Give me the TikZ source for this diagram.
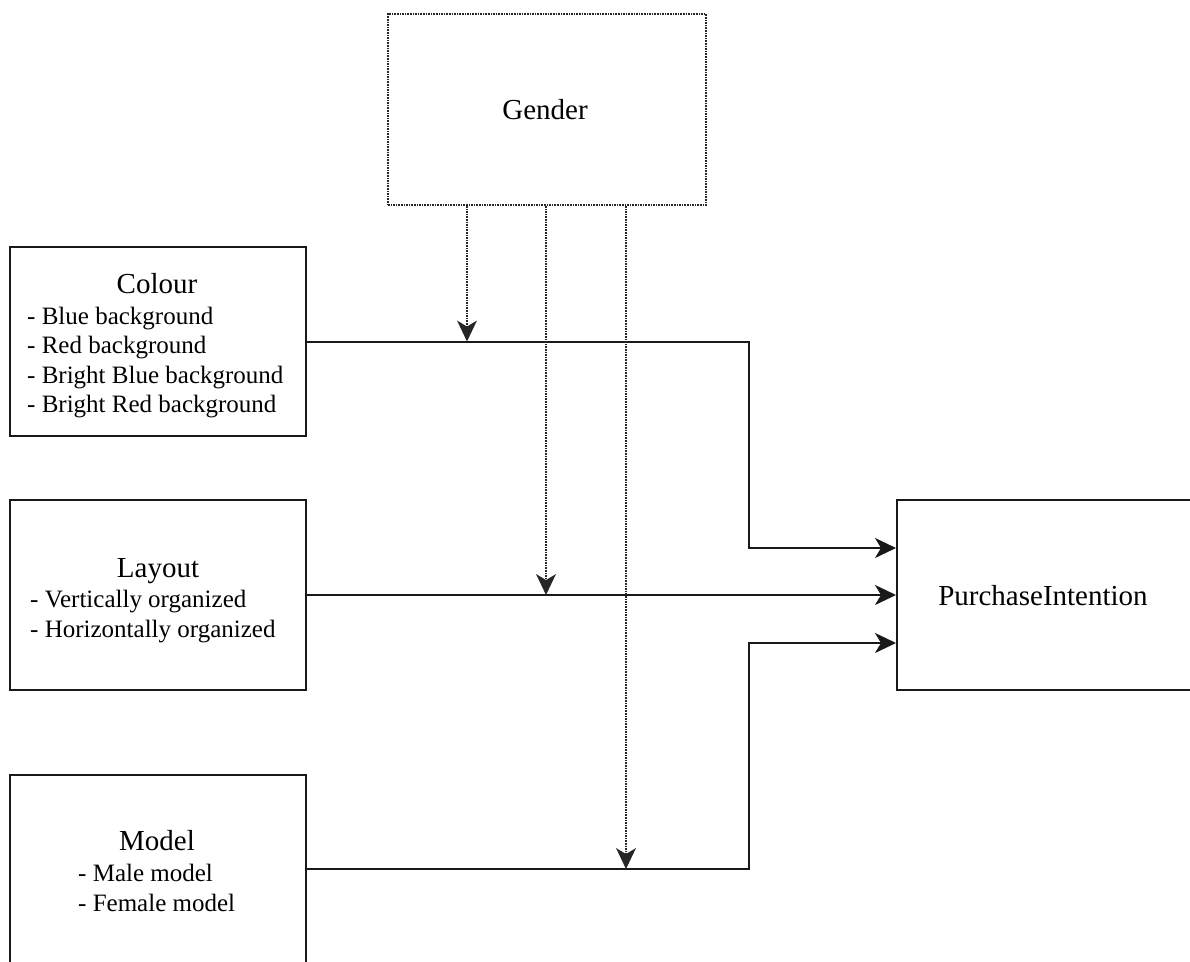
\documentclass[tikz,border=0pt]{standalone}
\usepackage{fontspec}
\setmainfont{Liberation Serif}
\usetikzlibrary{arrows.meta}
\begin{document}
\begin{tikzpicture}[x=1pt,y=-1pt,
  box/.style={draw=black!90,line width=2pt,rectangle,inner sep=0pt},
  dotbox/.style={draw=black!85,line width=1.8pt,dash pattern=on 1.6pt off 1pt,rectangle,inner sep=0pt},
  title/.style={anchor=base,inner sep=0pt,font=\fontsize{29}{34}\selectfont},
  item/.style={anchor=base west,inner sep=0pt,font=\fontsize{25}{30}\selectfont},
  conn/.style={draw=black!90,line width=2pt,-{Stealth[length=21pt,width=20pt,inset=6pt]}},
  mod/.style={draw=black!85,line width=1.8pt,dash pattern=on 1.6pt off 1pt,-{Stealth[length=21pt,width=20pt,inset=6pt,line width=0pt]}}]
\useasboundingbox (0,0) rectangle (1190,961);
\clip (0,0) rectangle (1190,961);
% boxes
\node[dotbox,minimum width=318pt,minimum height=191pt] (gender) at (547,109.5) {};
\node[box,minimum width=296pt,minimum height=189pt] (colour) at (158,341.5) {};
\node[box,minimum width=296pt,minimum height=190pt] (layout) at (158,595) {};
\node[box,minimum width=296pt,minimum height=188pt] (model) at (158,869) {};
\node[box,minimum width=320pt,minimum height=190pt] (pi) at (1057,595) {};
% texts
\node[title] (gendert) at (545,119) {Gender};
\node[title] (colourt) at (157,293) {Colour};
\node[item] (colour1) at (27,324) {- Blue background};
\node[item] (colour2) at (27,353) {- Red background};
\node[item] (colour3) at (27,383) {- Bright Blue background};
\node[item] (colour4) at (27,412) {- Bright Red background};
\node[title] (layoutt) at (158,577) {Layout};
\node[item] (layout1) at (30,607) {- Vertically organized};
\node[item] (layout2) at (30,637) {- Horizontally organized};
\node[title] (modelt) at (157,850) {Model};
\node[item] (model1) at (78,881) {- Male model};
\node[item] (model2) at (78,911) {- Female model};
\node[title] (pit) at (1043,605) {PurchaseIntention};
% connectors
\coordinate (c1) at (749,341.5);
\coordinate (m1) at (749,869);
\draw[conn] (colour.east) -- (c1) |- (pi.west |- 0,548);
\draw[conn] (layout.east) -- (pi.west);
\draw[conn] (model.east) -- (m1) |- (pi.west |- 0,643);
% moderator arrows
\draw[mod] (gender.south -| 467,0) -- (467,341.5);
\draw[mod] (gender.south -| 546,0) -- (546,595);
\draw[mod] (gender.south -| 626,0) -- (626,869);
\end{tikzpicture}
\end{document}
